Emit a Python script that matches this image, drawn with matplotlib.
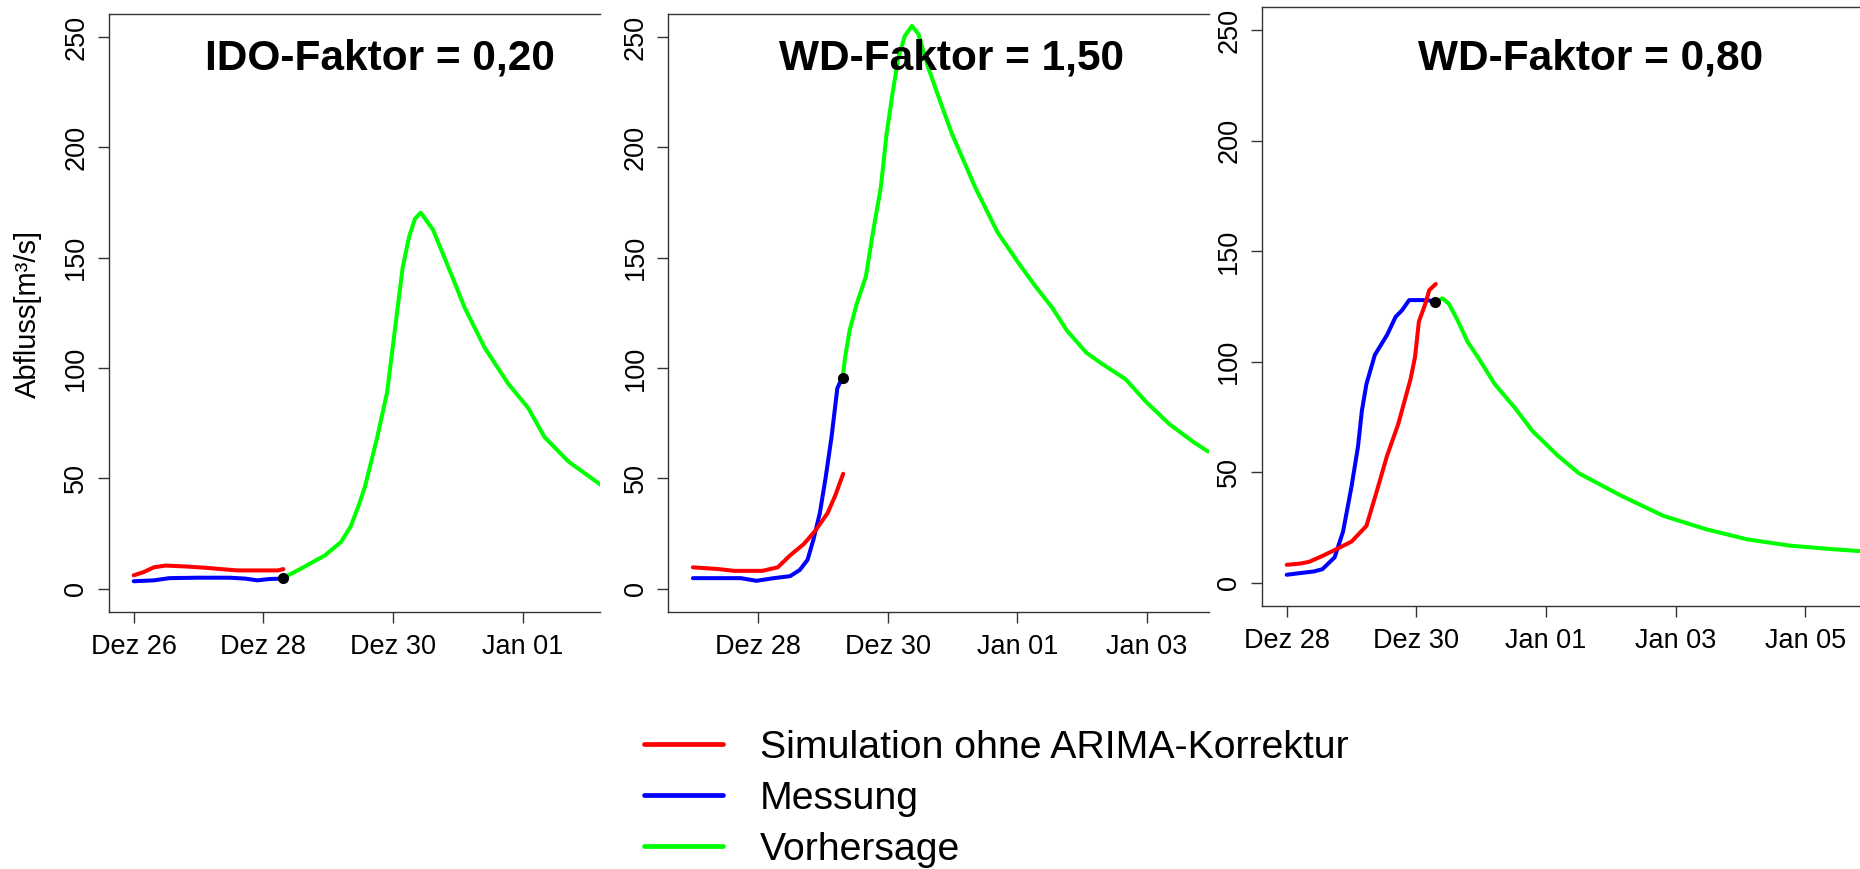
"""
Abfluss-Vorhersage fuer drei Faktor-Varianten (Nachbau der R-Grafik).
Zeitachse: Tage seit Dez 26, 00:00.
"""

import matplotlib
matplotlib.use("Agg")
import matplotlib.pyplot as plt
from matplotlib.lines import Line2D

plt.rcParams["font.family"] = ["Liberation Sans", "DejaVu Sans"]

# --- Panel 1: IDO-Faktor = 0,20 ---
p1_sim_t = [0.0, 0.15, 0.31, 0.49, 0.80, 1.11, 1.35, 1.60, 1.97, 2.22, 2.31]
p1_sim_q = [6.1, 7.5, 9.7, 10.5, 10.1, 9.5, 8.9, 8.3, 8.3, 8.3, 8.9]
p1_mes_t = [0.0, 0.31, 0.55, 0.98, 1.48, 1.72, 1.91, 2.09, 2.29]
p1_mes_q = [3.4, 3.8, 4.8, 5.0, 5.0, 4.6, 3.8, 4.4, 4.6]
p1_vor_t = [2.30, 2.58, 2.95, 3.20, 3.35, 3.48, 3.57, 3.75, 3.91, 4.03, 4.15,
            4.25, 4.34, 4.43, 4.62, 4.86, 5.11, 5.42, 5.78, 6.09, 6.34, 6.71, 7.24]
p1_vor_q = [4.8, 9.1, 15.1, 21.2, 28.3, 38.4, 46.4, 67.6, 88.9, 117.1, 145.4,
            159.5, 167.6, 170.4, 162.6, 145.4, 127.2, 109.0, 92.9, 81.8, 68.7, 57.6, 46.4]
p1_start = (2.30, 4.8)

# --- Panel 2: WD-Faktor = 1,50 ---
p2_sim_t = [0.99, 1.39, 1.63, 2.06, 2.30, 2.49, 2.70, 2.88, 3.07, 3.19, 3.31]
p2_sim_q = [9.7, 8.9, 8.1, 8.1, 9.7, 15.1, 20.2, 26.3, 34.3, 42.4, 52.1]
p2_mes_t = [0.99, 1.73, 1.97, 2.24, 2.49, 2.64, 2.76, 2.85, 2.95, 3.04, 3.13, 3.22, 3.29]
p2_mes_q = [4.8, 4.8, 3.6, 4.8, 5.7, 8.5, 13.1, 22.2, 34.3, 50.5, 68.7, 90.9, 95.3]
p2_vor_t = [3.30, 3.34, 3.41, 3.52, 3.66, 3.77, 3.89, 3.98, 4.07, 4.16, 4.26, 4.37,
            4.47, 4.62, 4.84, 4.99, 5.14, 5.35, 5.69, 6.02, 6.27, 6.54, 6.76, 7.06,
            7.30, 7.67, 7.98, 8.34, 8.71, 8.94]
p2_vor_q = [95.3, 104.9, 117.1, 129.2, 141.4, 161.6, 181.7, 206.0, 224.2, 240.3, 250.4, 255.0,
            251.4, 236.3, 218.1, 206.0, 195.9, 181.7, 161.6, 147.4, 137.3, 127.2, 117.1, 107.0,
            102.0, 94.9, 84.8, 74.7, 66.6, 62.2]
p2_start = (3.30, 95.3)

# --- Panel 3: WD-Faktor = 0,80 ---
p3_sim_t = [2.0, 2.22, 2.35, 2.55, 2.74, 3.0, 3.23, 3.39, 3.55, 3.72, 3.91, 3.98,
            4.04, 4.14, 4.20, 4.30]
p3_sim_q = [8.1, 8.7, 9.5, 12.1, 14.8, 18.6, 25.7, 41.4, 57.6, 71.7, 92.0, 102.1,
            118.2, 126.3, 132.4, 135.2]
p3_mes_t = [2.0, 2.22, 2.42, 2.55, 2.74, 2.87, 3.0, 3.10, 3.16, 3.23, 3.36, 3.55,
            3.68, 3.78, 3.89, 4.17, 4.30]
p3_mes_q = [3.6, 4.4, 5.1, 6.1, 11.5, 23.2, 43.5, 61.6, 77.8, 89.9, 103.1, 112.2,
            120.3, 123.3, 127.9, 127.9, 127.1]
p3_vor_t = [4.29, 4.40, 4.50, 4.63, 4.79, 4.95, 5.21, 5.53, 5.79, 6.18, 6.51, 7.16,
            7.81, 8.46, 9.11, 9.76, 10.41, 10.85]
p3_vor_q = [126.9, 128.7, 126.3, 119.2, 109.1, 102.1, 89.9, 78.8, 68.7, 57.6, 49.5, 39.4,
            30.3, 24.3, 19.6, 16.8, 15.2, 14.3]
p3_start = (4.29, 126.9)

titles = ["IDO-Faktor = 0,20", "WD-Faktor = 1,50", "WD-Faktor = 0,80"]
tick_days = [0, 2, 4, 6, 8, 10]
tick_labels = ["Dez 26", "Dez 28", "Dez 30", "Jan 01", "Jan 03", "Jan 05"]
y_ticks = [0, 50, 100, 150, 200, 250]
legend_labels = ["Simulation ohne ARIMA-Korrektur", "Messung", "Vorhersage"]

W, H = 1860, 869
# axes boxes in pixels: left, top, right, bottom
boxes = [(108.7, 14.0, 600.0, 611.7),
         (668.3, 14.0, 1208.5, 611.7),
         (1261.7, 7.3, 1860.0, 605.7)]
xlims = [(-0.386, 7.196), (0.611, 8.948), (1.614, 10.847)]
title_x = [380.4, 951.2, 1590.3]

panels = [
    (p1_sim_t, p1_sim_q, p1_mes_t, p1_mes_q, p1_vor_t, p1_vor_q, p1_start),
    (p2_sim_t, p2_sim_q, p2_mes_t, p2_mes_q, p2_vor_t, p2_vor_q, p2_start),
    (p3_sim_t, p3_sim_q, p3_mes_t, p3_mes_q, p3_vor_t, p3_vor_q, p3_start),
]

RED, BLUE, GREEN = "#FF0000", "#0000FF", "#00FF00"
FRAME = "#333333"

fig = plt.figure(figsize=(W / 100, H / 100), dpi=100)

for i, (st, sq, mt, mq, vt, vq, start) in enumerate(panels):
    l, t, r, b = boxes[i]
    ax = fig.add_axes([l / W, 1 - b / H, (r - l) / W, (b - t) / H])
    lw = 2.9
    ax.plot(mt, mq, color=BLUE, lw=lw, solid_capstyle="round", zorder=2)
    ax.plot(st, sq, color=RED, lw=lw, solid_capstyle="round", zorder=3)
    ax.plot(vt, vq, color=GREEN, lw=lw, solid_capstyle="round", zorder=3)
    ax.plot([start[0]], [start[1]], "o", color="black", ms=7, zorder=4)

    ax.set_xlim(*xlims[i])
    ax.set_ylim(-10.4, 260.4)

    lo, hi = xlims[i]
    tk = [(d, lab) for d, lab in zip(tick_days, tick_labels) if lo <= d <= hi]
    ax.set_xticks([d for d, _ in tk])
    ax.set_xticklabels([lab for _, lab in tk])
    ax.set_yticks(y_ticks)
    ax.set_yticklabels([str(v) for v in y_ticks], rotation=90, va="center")

    ax.tick_params(axis="both", direction="out", length=8, width=1.0,
                   color=FRAME, labelsize=19.5)
    ax.tick_params(axis="x", pad=8)
    ax.tick_params(axis="y", pad=6)

    ax.spines["right"].set_visible(False)
    for s in ("left", "top", "bottom"):
        ax.spines[s].set_color(FRAME)
        ax.spines[s].set_linewidth(1.0)

    fig.text(title_x[i] / W, 1 - 69.2 / H, titles[i], ha="center", va="baseline",
             fontsize=30.5, fontweight="bold")

fig.text(27.7 / W, 1 - 313.6 / H, "Abfluss[m³/s]", rotation=90,
         ha="center", va="center", fontsize=21)

handles = [Line2D([], [], color=c, lw=3.4, solid_capstyle="round")
           for c in (RED, BLUE, GREEN)]
fig.legend(handles, legend_labels, loc="upper left",
           bbox_to_anchor=(644 / W, 1 - 730 / H), frameon=False,
           fontsize=28.3, handlelength=2.0, handletextpad=0.95,
           labelspacing=0.38, borderpad=0, borderaxespad=0)

fig.savefig("out.png", dpi=100)
